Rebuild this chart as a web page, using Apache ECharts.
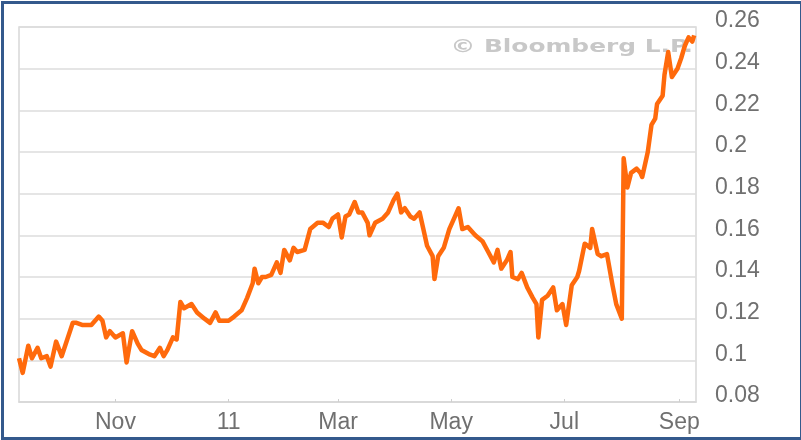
<!DOCTYPE html>
<html>
<head>
<meta charset="utf-8">
<script src="https://cdn.jsdelivr.net/npm/echarts@6/dist/echarts.min.js"></script>
<style>
html,body{margin:0;padding:0;background:#fff;}
#chart{width:801px;height:440px;}
</style>
</head>
<body>
<div id="chart"></div>
<script>
// ---- data ----
const dates = [
'2010-09-10','2010-09-12','2010-09-15','2010-09-17','2010-09-20','2010-09-22','2010-09-25','2010-09-27','2010-09-30',
'2010-10-03','2010-10-06','2010-10-09','2010-10-11','2010-10-14','2010-10-19','2010-10-23','2010-10-25','2010-10-27','2010-10-29',
'2010-11-01','2010-11-05','2010-11-07','2010-11-10','2010-11-13','2010-11-15','2010-11-19','2010-11-22','2010-11-25','2010-11-27','2010-11-29',
'2010-12-02','2010-12-04','2010-12-06','2010-12-08','2010-12-12','2010-12-15','2010-12-19','2010-12-22','2010-12-25','2010-12-27',
'2011-01-01','2011-01-04','2011-01-08','2011-01-11','2011-01-14','2011-01-15','2011-01-17','2011-01-19','2011-01-21','2011-01-24','2011-01-27','2011-01-29','2011-01-31',
'2011-02-03','2011-02-05','2011-02-07','2011-02-11','2011-02-14','2011-02-18','2011-02-21','2011-02-24','2011-02-26',
'2011-03-01','2011-03-03','2011-03-05','2011-03-07','2011-03-10','2011-03-12','2011-03-14','2011-03-17','2011-03-18','2011-03-21','2011-03-25','2011-03-28','2011-03-31',
'2011-04-02','2011-04-04','2011-04-06','2011-04-09','2011-04-11','2011-04-14','2011-04-16','2011-04-18','2011-04-21','2011-04-22','2011-04-24','2011-04-27','2011-04-30',
'2011-05-03','2011-05-05','2011-05-07','2011-05-10','2011-05-14','2011-05-18','2011-05-21','2011-05-24','2011-05-26','2011-05-28','2011-05-31',
'2011-06-02','2011-06-03','2011-06-06','2011-06-08','2011-06-11','2011-06-14','2011-06-16','2011-06-17','2011-06-19','2011-06-22','2011-06-25','2011-06-27','2011-06-30',
'2011-07-02','2011-07-05','2011-07-08','2011-07-09','2011-07-12','2011-07-15','2011-07-16','2011-07-19','2011-07-21','2011-07-24','2011-07-27','2011-07-29',
'2011-08-01','2011-08-02','2011-08-04','2011-08-06','2011-08-09','2011-08-11','2011-08-12','2011-08-15','2011-08-17','2011-08-19','2011-08-20','2011-08-23','2011-08-24','2011-08-26','2011-08-28','2011-08-31',
'2011-09-02','2011-09-04','2011-09-06','2011-09-08','2011-09-09'
];
const values = [
0.101,0.094,0.107,0.101,0.106,0.101,0.102,0.097,0.109,
0.102,0.110,0.118,0.118,0.117,0.117,0.121,0.119,0.111,0.114,
0.111,0.113,0.099,0.114,0.108,0.105,0.103,0.102,0.106,0.102,0.105,
0.111,0.110,0.128,0.125,0.127,0.123,0.120,0.118,0.123,0.119,
0.119,0.121,0.124,0.130,0.137,0.144,0.137,0.140,0.140,0.141,0.147,0.142,0.153,
0.148,0.154,0.152,0.153,0.163,0.166,0.166,0.164,0.168,
0.170,0.159,0.169,0.170,0.176,0.171,0.171,0.166,0.160,0.166,0.168,0.171,0.177,
0.180,0.171,0.173,0.169,0.168,0.171,0.163,0.155,0.150,0.139,0.150,0.154,0.163,
0.169,0.173,0.163,0.164,0.160,0.157,0.152,0.147,0.153,0.144,0.148,
0.152,0.140,0.139,0.142,0.135,0.130,0.127,0.111,0.129,0.131,0.135,0.124,0.127,
0.117,0.136,0.140,0.143,0.156,0.154,0.163,0.151,0.150,0.151,0.136,0.127,
0.120,0.197,0.183,0.190,0.192,0.190,0.188,0.200,0.213,0.216,0.223,0.227,0.237,0.248,0.236,0.240,
0.245,0.251,0.255,0.253,0.256
];
const xTickDates = ['2010-11-01','2011-01-01','2011-03-01','2011-05-01','2011-07-01','2011-09-01'];
const xTickLabels = ['Nov','11','Mar','May','Jul','Sep'];
const yTicks = [0.08,0.10,0.12,0.14,0.16,0.18,0.20,0.22,0.24,0.26];
const xRange = ['2010-09-10','2011-09-10'];
const watermark = '\u00A9 Bloomberg L.P.';

// ---- chart ----
function ts(s){ const p = s.split('-').map(Number); return Date.UTC(p[0], p[1]-1, p[2]) / 86400000; }
const tickTs = xTickDates.map(ts);
const chart = echarts.init(document.getElementById('chart'), null, {renderer:'canvas'});
chart.setOption({
  animation: false,
  backgroundColor: '#fff',
  grid: {left: 19, right: 105, top: 27, bottom: 38, show: true, borderColor: '#d8d8d8', borderWidth: 1.5, containLabel: false},
  xAxis: {
    type: 'value',
    min: ts(xRange[0]), max: ts(xRange[1]),
    axisLine: {show: true, lineStyle: {color: '#d8d8d8', width: 1.5}},
    axisTick: {show: true, inside: true, length: 3, customValues: tickTs, lineStyle: {color: '#cfcfcf'}},
    axisLabel: {
      customValues: tickTs,
      formatter: function(v){ const i = tickTs.indexOf(v); return i >= 0 ? xTickLabels[i] : ''; },
      color: '#707070', fontFamily: 'Liberation Sans', fontSize: 23, margin: 9
    },
    splitLine: {show: false}
  },
  yAxis: {
    type: 'value', position: 'right',
    min: yTicks[0], max: yTicks[yTicks.length-1], interval: 0.02,
    axisLine: {show: false}, axisTick: {show: false},
    axisLabel: {
      formatter: function(v){ return String(+v.toFixed(2)); },
      color: '#707070', fontFamily: 'Liberation Sans', fontSize: 23, margin: 19,
      verticalAlign: 'bottom', lineHeight: 12
    },
    splitLine: {show: true, lineStyle: {color: '#dcdcdc', width: 1.5}}
  },
  graphic: [
    {type: 'text', x: 693, y: 47, scaleX: 1.38, z: 1, silent: true,
     style: {text: watermark, fill: '#c8c8c8', font: 'bold 18px "DejaVu Sans"', align: 'right', verticalAlign: 'middle'}},
    {type: 'rect', left: 0, top: 0, z: 100, silent: true,
     shape: {x: 1, y: 1.5, width: 799, height: 436},
     style: {fill: 'none', stroke: '#34598c', lineWidth: 3}}
  ],
  series: [{
    type: 'line',
    data: dates.map((d, i) => [ts(d), values[i]]),
    showSymbol: false,
    z: 5,
    lineStyle: {color: '#ff6a0c', width: 4.5, join: 'round'}
  }]
});
</script>
</body>
</html>
